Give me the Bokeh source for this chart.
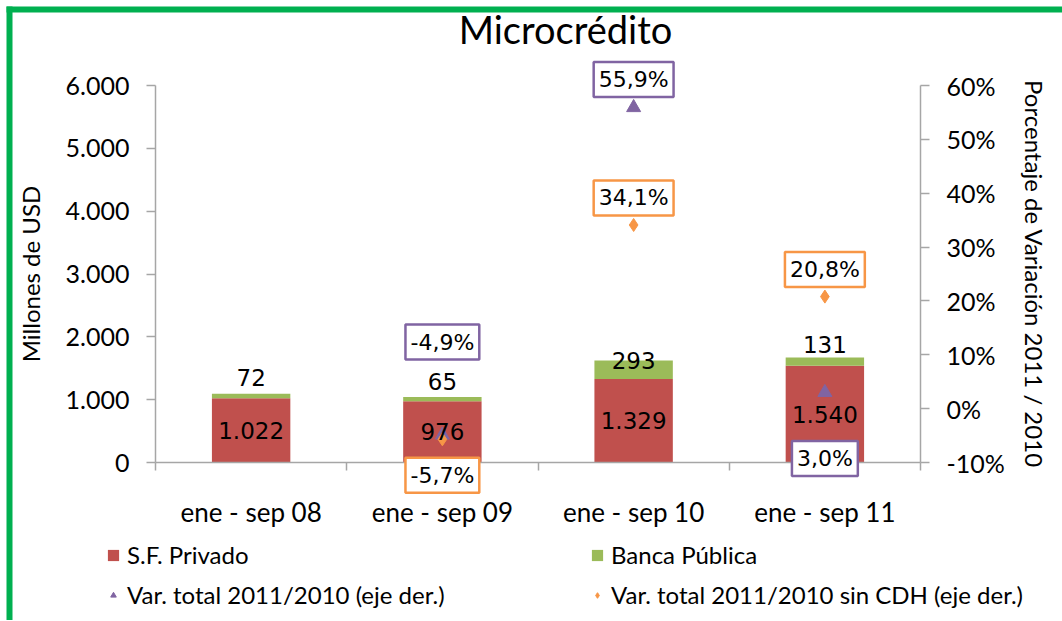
import math
from bokeh.plotting import figure
from bokeh.models import (Range1d, LinearAxis, FixedTicker, Label, Legend, LegendItem,
                          ColumnDataSource, BoxAnnotation, Grid)
from bokeh.embed import file_html
from bokeh.resources import INLINE

# ---------------- data ----------------
periods = ["ene - sep 08", "ene - sep 09", "ene - sep 10", "ene - sep 11"]
sf_privado = [1022, 976, 1329, 1540]
banca_publica = [72, 65, 293, 131]
var_total = [float("nan"), -4.9, 55.9, 3.0]
var_sin_cdh = [float("nan"), -5.7, 34.1, 20.8]
left_ticks = [0, 1000, 2000, 3000, 4000, 5000, 6000]
left_tick_labels = ["0", "1.000", "2.000", "3.000", "4.000", "5.000", "6.000"]
right_ticks = [-10, 0, 10, 20, 30, 40, 50, 60]
right_tick_labels = ["-10%", "0%", "10%", "20%", "30%", "40%", "50%", "60%"]
series_names = ["S.F. Privado", "Banca Pública",
                "Var. total 2011/2010 (eje der.)", "Var. total 2011/2010 sin CDH (eje der.)"]
title_text = "Microcrédito"

# ---------------- styles / layout ----------------
RED = "#C0504D"
GREEN = "#9BBB59"
PURPLE = "#8064A2"
ORANGE = "#F79646"
FRAME_GREEN = "#00B050"
AXIS_GRAY = "#A6A6A6"
FONT = "Lato"
LBL_FONT = "DejaVu Sans"
W, H = 1062, 620
# pixel placement of the axes inside the picture
PX_X0, PX_X1 = 155, 920      # left / right value axes
PX_Y0, PX_Y1 = 462, 85       # bottom (0 / -10%) and top (6000 / 60%) of the value axes
Y_MIN, Y_MAX = 0, 6000
P_MIN, P_MAX = -10, 60
N = len(periods)

def data_span(v_a, v_b, px_a, px_b, size, inverted=False):
    """data range whose ends sit on pixel 0 and pixel `size` (inverted: pixels grow downward)"""
    k = (v_b - v_a) / (px_b - px_a)
    at0 = v_a + (0 - px_a) * k
    at_size = v_a + (size - px_a) * k
    return (at_size, at0) if inverted else (at0, at_size)

xr = data_span(0, N, PX_X0, PX_X1, W)
yr = data_span(Y_MIN, Y_MAX, PX_Y0, PX_Y1, H, inverted=True)
pr = data_span(P_MIN, P_MAX, PX_Y0, PX_Y1, H, inverted=True)

# screen offsets (px, positive = up) for the data labels
banca_label_up = [16, 16, 0, 13]
total_label_up = [0, 93, 28, -66]
sincdh_label_up = [0, -36, 27, 27]

# category i occupies [i, i+1] on the x scale; its centre is i + 0.5
xc = [i + 0.5 for i in range(N)]
x_bounds = list(range(N + 1))

p = figure(x_range=Range1d(*xr), y_range=Range1d(*yr),
           width=W, height=H, output_backend="svg", toolbar_location=None,
           x_axis_location=None, y_axis_location=None,
           min_border=0, min_border_left=0, min_border_right=0,
           min_border_top=0, min_border_bottom=0)
p.center = [c for c in p.center if not isinstance(c, Grid)]
p.outline_line_color = None
p.background_fill_color = "white"
p.border_fill_color = "white"
p.extra_y_ranges = {"pct": Range1d(*pr)}

# bars
src = ColumnDataSource(dict(x=xc, sf=sf_privado, bp=banca_publica))
bars = p.vbar_stack(["sf", "bp"], x="x", width=0.41, color=[RED, GREEN],
                    line_color=None, source=src)

# markers
tri = p.scatter(x=xc, y=var_total, marker="triangle", size=14, color=PURPLE,
                y_range_name="pct")
dia = p.scatter(x=xc, y=var_sin_cdh, marker="diamond", size=13, color=ORANGE,
                y_range_name="pct")

# axes (fixed inside the frame, limited by bounds)
ly = LinearAxis(fixed_location=0, bounds=(Y_MIN, Y_MAX), ticker=FixedTicker(ticks=left_ticks),
                major_label_overrides={t: s for t, s in zip(left_ticks, left_tick_labels)},
                axis_label="Millones de USD")
ry = LinearAxis(fixed_location=N, y_range_name="pct", bounds=(P_MIN, P_MAX),
                ticker=FixedTicker(ticks=right_ticks),
                major_label_overrides={t: s for t, s in zip(right_ticks, right_tick_labels)},
                axis_label="Porcentaje de Variación 2011 / 2010")
for ax in (ly, ry):
    ax.axis_line_color = AXIS_GRAY
    ax.axis_line_width = 1.5
    ax.major_tick_line_color = AXIS_GRAY
    ax.major_tick_line_width = 1.5
    ax.major_tick_out = 9
    ax.major_tick_in = 0
    ax.minor_tick_line_color = None
    ax.major_label_text_font = FONT
    ax.major_label_text_font_size = "25px"
    ax.major_label_text_color = "black"
    ax.major_label_standoff = 17
    ax.axis_label_text_font = FONT
    ax.axis_label_text_font_size = "24px"
    ax.axis_label_text_font_style = "normal"
    ax.axis_label_text_color = "black"
    ax.axis_label_standoff = 18
ry.axis_label_standoff = 12
p.add_layout(ly, "left")
p.add_layout(ry, "right")

bx = LinearAxis(fixed_location=0, bounds=(0, N), ticker=FixedTicker(ticks=x_bounds),
                axis_line_color=AXIS_GRAY, axis_line_width=1.5,
                major_tick_line_color=AXIS_GRAY, major_tick_line_width=1.5,
                major_tick_out=8, major_tick_in=0, minor_tick_line_color=None,
                major_label_text_font_size="1px", major_label_text_alpha=0,
                major_label_standoff=0)
cx = LinearAxis(fixed_location=0, ticker=FixedTicker(ticks=xc),
                major_label_overrides={x: s for x, s in zip(xc, periods)},
                axis_line_color=None, major_tick_line_color=None,
                minor_tick_line_color=None, major_tick_out=0, major_tick_in=0,
                major_label_text_font=FONT, major_label_text_font_size="26px",
                major_label_text_color="black", major_label_standoff=33)
p.add_layout(bx, "below")
p.add_layout(cx, "below")

# title
p.add_layout(Label(x=565, y=H - 28, x_units="screen", y_units="screen", text=title_text,
                   text_font=FONT, text_font_size="38px", text_align="center",
                   text_baseline="alphabetic", text_color="black"))

# data labels
def thousands(v):
    return f"{v:,}".replace(",", ".")

def pct(v):
    return f"{v:.1f}".replace(".", ",") + "%"

for x, sf, bp, up in zip(xc, sf_privado, banca_publica, banca_label_up):
    p.add_layout(Label(x=x, y=sf / 2, text=thousands(sf),
                       text_font=LBL_FONT, text_font_size="23px", text_align="center",
                       text_baseline="middle", text_color="black"))
    p.add_layout(Label(x=x, y=sf + bp, y_offset=up, text=thousands(bp),
                       text_font=LBL_FONT, text_font_size="23px", text_align="center",
                       text_baseline="middle", text_color="black"))

for vals, ups, col in ((var_total, total_label_up, PURPLE), (var_sin_cdh, sincdh_label_up, ORANGE)):
    for x, v, up in zip(xc, vals, ups):
        if math.isnan(v):
            continue
        p.add_layout(Label(x=x, y=v, y_range_name="pct", y_offset=up, text=pct(v),
                           text_font=LBL_FONT, text_font_size="22px", text_align="center",
                           text_baseline="middle", text_color="black",
                           background_fill_color="white", border_line_color=col,
                           border_line_width=2.5, padding=5))

# legend: two columns
leg_style = dict(orientation="vertical", border_line_color=None, background_fill_alpha=0,
                 label_text_font=FONT, label_text_font_size="24px", label_text_color="black",
                 glyph_width=14, glyph_height=14, label_standoff=7, spacing=11,
                 padding=0, margin=0)
leg_a = Legend(items=[LegendItem(label=series_names[0], renderers=[bars[0]]),
                      LegendItem(label=series_names[2], renderers=[tri])],
               location=(106, 11), **leg_style)
leg_b = Legend(items=[LegendItem(label=series_names[1], renderers=[bars[1]]),
                      LegendItem(label=series_names[3], renderers=[dia])],
               location=(590, 11), **leg_style)
p.add_layout(leg_a, "center")
p.add_layout(leg_b, "center")

# green frame of the picture (top and left edges)
p.add_layout(BoxAnnotation(left=6, right=None, bottom=H - 12, top=H - 6,
                           left_units="screen", bottom_units="screen", top_units="screen",
                           fill_color=FRAME_GREEN, fill_alpha=1, line_color=None))
p.add_layout(BoxAnnotation(left=6, right=12, bottom=None, top=H - 6,
                           left_units="screen", right_units="screen", top_units="screen",
                           fill_color=FRAME_GREEN, fill_alpha=1, line_color=None))

open("out.html", "w").write(file_html(p, INLINE))
